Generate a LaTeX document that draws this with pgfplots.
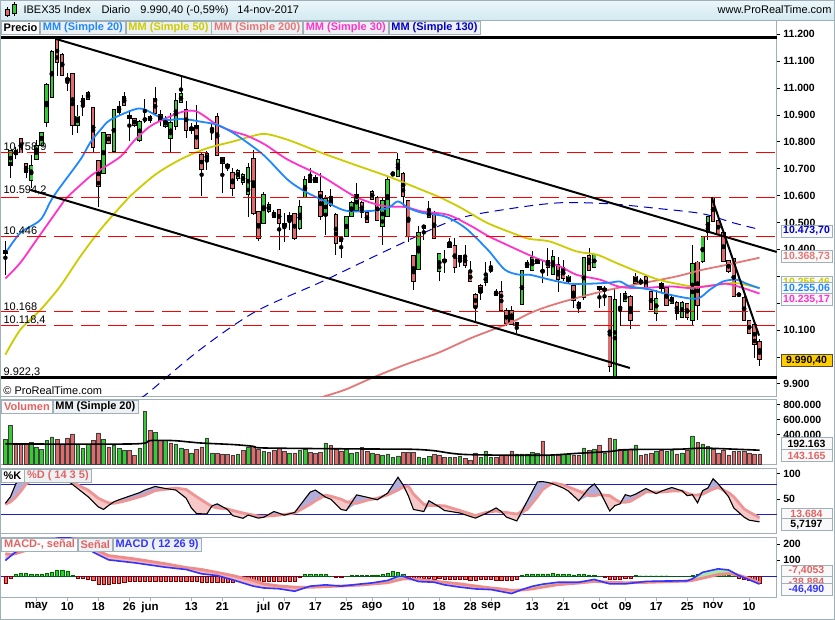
\documentclass[border=0pt]{standalone}
\usepackage{pgfplots}
\pgfplotsset{compat=1.18}
\usepackage{pgfplotstable}
\usepackage{fontspec}
\setmainfont{Liberation Sans}

\definecolor{cgreen}{RGB}{51,204,51}
\definecolor{cred}{RGB}{226,106,106}
\definecolor{ma20}{RGB}{30,136,255}
\definecolor{ma50}{RGB}{204,204,0}
\definecolor{ma200}{RGB}{228,120,120}
\definecolor{ma30}{RGB}{255,51,204}
\definecolor{ma130}{RGB}{0,0,204}
\definecolor{frm}{RGB}{160,176,184}
\definecolor{legbg}{RGB}{238,241,244}
\definecolor{salm}{RGB}{224,100,100}
\definecolor{dline}{RGB}{238,150,150}
\definecolor{kfill}{RGB}{178,174,220}
\definecolor{dfill}{RGB}{246,200,200}
\definecolor{mblue}{RGB}{51,51,255}
\definecolor{sigc}{RGB}{238,140,140}
\definecolor{mgreen}{RGB}{170,232,170}
\definecolor{mpink}{RGB}{246,180,180}
\definecolor{linblue}{RGB}{30,30,200}
\definecolor{gold}{RGB}{255,204,0}

\pgfplotstableread{
i o h l c v g
-6 10385 10432 10305 10395 333 1
-5 10714 10770 10665 10764 520 1
-4 10765 10780 10735 10755 289 0
-3 10810 10813 10758 10760 276 0
-2 10717 10720 10665 10686 276 0
-1 10658 10751 10627 10710 298 1
0 10735 10807 10733 10785 235 1
1 10789 10838 10789 10834 200 1
2 10875 11018 10854 11012 320 1
3 10968 11142 10968 11135 369 1
4 11179 11184 11043 11096 333 0
5 11123 11129 11049 11049 276 0
6 11035 11055 10990 11030 356 0
7 11051 11055 10826 10863 409 0
8 10863 10937 10832 10894 276 1
9 10941 10974 10894 10958 213 1
10 10958 10989 10956 10981 276 1
11 10925 10927 10758 10782 324 0
12 10727 10733 10559 10634 422 0
13 10683 10838 10683 10834 333 1
14 10826 10830 10790 10795 235 0
15 10767 10922 10764 10919 253 1
16 10909 10950 10900 10931 213 1
17 10968 10986 10934 10937 187 1
18 10890 10919 10801 10895 187 0
19 10884 10890 10855 10863 120 0
20 10807 10880 10800 10875 222 1
21 10882 10958 10870 10884 711 1
22 10894 10900 10870 10879 453 0
23 10958 11005 10905 10906 435 1
24 10900 10920 10860 10880 320 0
25 10857 10895 10850 10881 320 1
26 10813 10906 10758 10869 289 0
27 10857 10981 10844 10952 276 1
28 10946 11045 10943 10977 222 1
29 10919 10950 10813 10844 200 0
30 10850 10870 10830 10845 156 1
31 10857 10937 10772 10776 200 0
32 10751 10758 10597 10698 235 0
33 10733 10764 10696 10755 356 1
34 10848 10869 10807 10846 156 1
35 10891 10906 10748 10751 156 0
36 10741 10745 10609 10720 142 0
37 10712 10720 10690 10710 133 0
38 10683 10702 10597 10627 120 0
39 10665 10700 10655 10693 133 1
40 10649 10685 10640 10677 187 0
41 10605 10720 10522 10702 235 1
42 10737 10770 10528 10535 244 0
43 10537 10541 10429 10442 200 0
44 10497 10615 10497 10603 173 1
45 10541 10575 10535 10566 160 0
46 10535 10547 10516 10520 187 0
47 10547 10550 10398 10497 222 0
48 10494 10535 10429 10485 173 0
49 10525 10537 10473 10510 156 1
50 10531 10535 10435 10442 156 0
51 10479 10584 10473 10557 196 1
52 10593 10671 10590 10658 209 1
53 10665 10702 10646 10652 164 0
54 10665 10677 10646 10649 151 0
55 10615 10683 10510 10525 164 0
56 10528 10603 10454 10587 289 1
57 10594 10624 10559 10566 253 0
58 10528 10535 10380 10423 209 0
59 10432 10449 10367 10445 182 0
60 10448 10525 10448 10520 209 1
61 10525 10578 10525 10572 156 1
62 10547 10646 10545 10603 164 1
63 10572 10578 10516 10537 231 0
64 10535 10538 10497 10500 173 0
65 10615 10621 10582 10587 156 1
66 10590 10597 10504 10510 142 0
67 10485 10590 10417 10578 129 1
68 10525 10673 10522 10658 142 1
69 10680 10686 10671 10683 93 1
70 10673 10758 10671 10733 116 1
71 10681 10686 10553 10597 160 0
72 10578 10584 10429 10448 160 0
73 10376 10380 10250 10281 160 0
74 10326 10487 10324 10460 102 1
75 10487 10491 10435 10481 80 1
76 10520 10578 10515 10541 107 1
77 10535 10541 10442 10442 138 0
78 10318 10386 10281 10383 129 0
79 10357 10398 10312 10359 93 0
80 10423 10442 10404 10408 93 1
81 10413 10442 10312 10334 93 0
82 10376 10378 10336 10357 107 1
83 10374 10417 10330 10342 80 0
84 10312 10355 10281 10281 53 0
85 10231 10237 10132 10188 156 0
86 10264 10272 10212 10240 93 1
87 10277 10351 10262 10299 182 1
88 10322 10355 10312 10325 93 1
89 10231 10252 10225 10241 93 0
90 10241 10284 10169 10175 129 0
91 10169 10181 10113 10126 129 0
92 10169 10188 10119 10123 182 0
93 10117 10128 10088 10126 142 1
94 10196 10321 10194 10318 142 1
95 10351 10361 10330 10334 142 1
96 10324 10392 10321 10367 164 1
97 10349 10364 10348 10361 156 1
98 10318 10361 10274 10320 315 0
99 10355 10404 10299 10334 120 1
100 10309 10398 10305 10373 120 1
101 10342 10371 10243 10289 129 0
102 10330 10361 10281 10293 142 1
103 10281 10305 10274 10299 142 1
104 10264 10268 10181 10212 129 0
105 10200 10206 10163 10185 120 0
106 10221 10373 10212 10367 222 1
107 10376 10404 10318 10324 187 0
108 10334 10383 10330 10380 209 1
109 10259 10262 10181 10252 262 0
110 10247 10262 10188 10253 156 1
111 10222 10225 9942 9965 356 0
112 9930 10256 9925 10210 342 1
113 10183 10237 10113 10181 209 0
114 10209 10243 10205 10233 187 1
115 10222 10231 10103 10138 209 0
116 10299 10311 10268 10274 262 1
117 10281 10293 10268 10274 120 0
118 10297 10300 10256 10259 142 0
119 10240 10244 10175 10178 156 0
120 10163 10250 10132 10215 173 1
121 10256 10277 10243 10271 196 0
122 10256 10262 10188 10194 173 1
123 10202 10225 10198 10219 196 1
124 10200 10206 10138 10163 142 0
125 10148 10206 10145 10202 156 1
126 10196 10200 10138 10148 196 0
127 10138 10417 10119 10345 382 1
128 10351 10355 10136 10194 298 0
129 10355 10445 10349 10445 276 1
130 10464 10520 10435 10520 244 1
131 10590 10594 10504 10507 209 0
132 10507 10510 10454 10458 156 0
133 10460 10466 10355 10357 196 0
134 10357 10361 10312 10318 129 0
135 10364 10367 10225 10227 173 0
136 10233 10236 10227 10229 173 0
137 10219 10225 10132 10138 173 0
138 10132 10135 10086 10088 156 0
139 10119 10123 9996 10049 142 0
140 10057 10066 9965 9990.4 143.165 0
}\candles

\pgfplotstableread{
i k d
-6 42 40
-5 55 45
-4 80 54
-3 92 66
-2 97 80
0 98 92
2 97 95
4 96 94
6 87 89
8 71 78
10 55 68
12 35 52
13 30 47
14 38 43
15 45 42
16 49 44
18 56 49
20 63 55
21 68 58
23 75 67
25 71 69.5
27 68 72
29 52 69
30 33 62
31 22 55
33 21 42
34 37 36
35 41 33
37 30 31
38 18 28
40 12.7 23
41 19 21
43 13 17
44 14.7 16.5
46 26 18
48 19 20
50 24 23
53 64 40
54 68 47
56 54 58
57 50 56
59 30 50
60 28 45
62 58.5 42
64 54 48
66 49 52
68 62 58.5
70 93 68
71 78 74
72 57 76
73 30 60
75 26 40
76 47 37.6
78 35 37.6
79 28 37
82 23 28
85 13 18
87 22 24
89 33 27
90 26 25
91 15 24
93 7.6 21
95 46 30
97 84 55
98 84.5 69
99 83 76
100 80 82
102 72 78
103 66 74
105 47 66
107 72 57
108 80 57
109 67 59
110 47 58
111 27 57
112 37.6 50
113 41 44
114 59 44
115 56 46
116 60 52
118 71 64
120 61 64
121 66 64
123 73 66
125 66.5 66
126 57 62
127 59 58.5
128 43 58.5
129 67 60
130 72 65
131 90 70
132 80 73
134 55 63
135 33 55
137 15 31
138 9 25
140 5.72 13.68
}\stoch

\pgfplotstableread{
i m s
-6 98 140
-5 125 135
-4 150 140
-2 180 160
0 200 180
2 215 195
4 235 210
6 240 220
8 225 230
10 185 205
11 149 170
14 102 128
19 84 108
25 57 78
29 43 55
32 16.5 43
35 6 25
38 -20 6
42 -59 -24.5
44 -70 -45
47 -75 -58
50 -90 -65
53 -59 -66
56 -51 -62
59 -59 -58
63 -45 -52
65 -39 -46
68 -24 -38
70 0 -22
71 2 -15
72 -10 -14
74 -31 -18
77 -35 -28
79 -51 -35
82 -65 -45
85 -76 -58
88 -80 -70
90 -92 -76
92 -104 -84
94 -80 -83
96 -60 -76
98 -47 -65
101 -35 -50
105 -35 -40
108 -18 -30
111 -45 -35
114 -45 -38
118 -30 -36
121 -28 -33
126 -26 -28
127 -14 -24
129 26 -10
132 47 12
134 40 18
136 6 8
138 -20 -12
140 -46.49 -38.88
}\macd

\pgfplotstableread{
i h
-6 -39
-5 -10
-4 14
-3 18
-2 18
-1 14
0 12
1 16
2 18
3 27
4 38
5 41
6 35
7 6
8 -8
9 -10
10 -14
11 -24
12 -49
13 -49
14 -49
15 -39
16 -39
17 -35
18 -29
19 -29
20 -29
21 -29
22 -29
23 -29
24 -29
25 -29
26 -29
27 -29
28 -29
29 -29
30 -29
31 -29
32 -35
33 -35
34 -35
35 -35
36 -35
37 -35
38 -35
39 -30
40 -30
41 -30
42 -30
43 -31
44 -31
45 -31
46 -31
47 -31
48 -28
49 -28
50 -28
51 -5
52 12
53 12
54 12
55 12
56 12
57 3
58 -3
59 -3
60 2
61 6
62 8
63 8
64 6
65 8
66 10
67 14
68 20
69 31
70 25
71 12
72 -8
73 -12
74 -14
75 -12
76 -12
77 -14
78 -12
79 -14
80 -16
81 -14
82 -14
83 -18
84 -24
85 -20
86 -16
87 -14
88 -14
89 -20
90 -20
91 -20
92 -20
93 -18
94 6
95 12
96 14
97 16
98 16
99 16
100 18
101 16
102 14
103 14
104 10
105 12
106 12
107 10
108 6
109 2
110 -3
111 -18
112 -14
113 -14
114 -12
115 -10
116 6
117 5
118 5
119 5
120 5
121 5
122 5
123 3
124 3
125 3
126 2
127 8
128 14
129 24
130 30
131 30
132 24
133 20
134 10
135 3
136 -10
137 -14
138 -20
139 -30
140 -40
}\hist

\pgfplotsset{
 panel/.style={scale only axis, width=777pt, xmin=-6.963, xmax=143.33,
   axis line style={draw=frm, line width=0.8pt},
   xtick=\empty, ytick pos=right, yticklabel pos=right,
   ytick align=outside, major tick length=3pt,
   tick style={black, line width=0.6pt},
   yticklabel style={font=\bfseries\fontsize{10.5}{12}\selectfont},
   /pgf/number format/assume math mode=true,
   scaled y ticks=false, clip=true},
 cwick/.style={only marks, mark=none, forget plot,
   error bars/y dir=both, error bars/y explicit, error bars/error mark=none},
}
\tikzset{
 leg/.style={draw=frm, fill=legbg, font=\bfseries\fontsize{11}{12}\selectfont,
   inner xsep=2.5pt, inner ysep=0pt, minimum height=13.5pt, anchor=north west, line width=0.6pt},
 vbox/.style={draw=frm, fill=white!95!gray, font=\bfseries\fontsize{10.5}{12}\selectfont,
   inner xsep=2pt, inner ysep=0pt, minimum height=12pt, minimum width=51pt, anchor=west, line width=0.6pt},
 llab/.style={anchor=base west, font=\fontsize{11}{12}\selectfont, inner sep=0pt},
}

\begin{document}
\begin{tikzpicture}
\fill[white] (0pt,0pt) rectangle (835pt,-620pt);
\shade[top color={rgb,255:red,236;green,246;blue,250}, bottom color={rgb,255:red,212;green,234;blue,242}] (0pt,0pt) rectangle (835pt,-20pt);
\draw[frm, line width=0.6pt] (0pt,-20pt) -- (835pt,-20pt);
% title icon
\draw[black, line width=0.5pt] (6.5pt,-7pt) -- (6.5pt,-17pt);
\filldraw[fill=cred, draw=black, line width=0.5pt] (4.5pt,-9pt) rectangle (8.5pt,-15pt);
\draw[black, line width=0.5pt] (13.5pt,-2.5pt) -- (13.5pt,-16pt);
\filldraw[fill=cgreen, draw=black, line width=0.5pt] (11.5pt,-4pt) rectangle (15.5pt,-13.5pt);
\node[anchor=base west, font=\fontsize{11}{12}\selectfont, inner sep=0pt] at (23pt,-14pt) {IBEX35 Index};
\node[anchor=base west, font=\fontsize{11}{12}\selectfont, inner sep=0pt] at (101pt,-14pt) {Diario};
\node[anchor=base west, font=\fontsize{11}{12}\selectfont, inner sep=0pt] at (140pt,-14pt) {9.990,40 (-0,59\%)};
\node[anchor=base west, font=\fontsize{11}{12}\selectfont, inner sep=0pt] at (237pt,-14pt) {14-nov-2017};
\node[anchor=base east, font=\fontsize{11}{12}\selectfont, inner sep=0pt] at (832pt,-14pt) {www.ProRealTime.com};

% ================= PRICE =================
\begin{axis}[panel, at={(0pt,-396.5pt)}, anchor=south west, height=376pt,
  ymin=9853.7, ymax=11251, ytick={9900,10000,...,11200},
  yticklabels={9.900,,10.100,,,10.400,10.500,10.600,10.700,10.800,10.900,11.000,11.100,11.200}]
\addplot[cwick, error bars/error bar style={draw=black, line width=1pt}]
  table[x=i, y expr=(\thisrow{h}+\thisrow{l})/2, y error expr=(\thisrow{h}-\thisrow{l})/2] {\candles};
\addplot[cwick, error bars/error bar style={draw=black, line width=4.4pt}]
  table[x=i, y expr=(\thisrow{o}+\thisrow{c})/2, y error expr=abs(\thisrow{c}-\thisrow{o})/2+3.6] {\candles};
\addplot[cwick, restrict expr to domain={\thisrow{c}-\thisrow{o}}{0:100000}, error bars/error bar style={draw=cgreen, line width=2.6pt}]
  table[x=i, y expr=(\thisrow{o}+\thisrow{c})/2, y error expr=abs(\thisrow{c}-\thisrow{o})/2] {\candles};
\addplot[cwick, restrict expr to domain={\thisrow{c}-\thisrow{o}}{-100000:-0.001}, error bars/error bar style={draw=cred, line width=2.6pt}]
  table[x=i, y expr=(\thisrow{o}+\thisrow{c})/2, y error expr=abs(\thisrow{c}-\thisrow{o})/2] {\candles};
% moving averages
\addplot[ma200, line width=1.8pt, smooth, no markers] coordinates {(54.9,9848) (59.8,9878) (64.9,9921) (71.4,9971) (77.8,10015) (84.3,10071) (91.7,10126) (95.6,10163) (99.4,10190) (104.6,10219) (111,10250) (117.4,10274) (123.9,10299) (129,10324) (133.6,10342) (140,10368.73)};
\addplot[ma130, line width=1pt, dash pattern=on 9pt off 6pt, smooth, no markers] coordinates {(20.1,9848) (21.7,9867) (31.7,10027) (42.4,10168) (55.3,10280) (68.1,10398) (81,10510) (91.7,10551) (101.4,10573) (111,10569) (120.7,10551) (129,10532) (134.8,10499) (140,10473.7)};
\addplot[ma50, line width=1.8pt, smooth, no markers] coordinates {(-6,10008) (-3.1,10101) (0.8,10175) (4.6,10262) (8.5,10373) (12.4,10473) (16.3,10559) (18.8,10609) (23.4,10683) (28.4,10739) (33.1,10776) (38.1,10801) (41.4,10819) (44.3,10829) (48.7,10807) (55.3,10758) (61.7,10714) (68.1,10671) (71.4,10646) (74.6,10621) (78.5,10590) (82.3,10553) (87.4,10497) (93.6,10450) (95.6,10438) (99.4,10429) (104.6,10392) (108.5,10380) (112.3,10349) (116.2,10318) (120.1,10289) (123.9,10272) (127.8,10260) (131.7,10268) (135.5,10274) (140,10255.46)};
\addplot[ma30, line width=1.8pt, smooth, no markers] coordinates {(-6,10291) (-3.1,10350) (0,10434) (4.6,10559) (5.9,10592) (10.4,10671) (12.4,10696) (16.3,10745) (18.8,10801) (22,10857) (25.3,10889) (28.4,10912) (31.1,10912) (35,10863) (38.1,10838) (40.8,10822) (44.3,10789) (48.7,10733) (55.3,10671) (61.7,10596) (66.9,10562) (71.4,10557) (74.6,10541) (79.7,10528) (84.3,10485) (87.4,10450) (91.7,10411) (96.8,10367) (101.4,10336) (104.6,10305) (109.1,10287) (113,10260) (117.4,10256) (122.6,10262) (126.5,10256) (130.4,10264) (133.6,10272) (136.8,10256) (140,10235.17)};
\addplot[ma20, line width=1.8pt, smooth, no markers] coordinates {(-6,10385) (-3.1,10461) (0.8,10510) (3.3,10596) (8.5,10733) (10.4,10796) (12.4,10844) (14.3,10881) (18.8,10919) (20.7,10922) (23.4,10896) (25.3,10881) (28.4,10885) (31.7,10875) (35,10863) (38.1,10833) (41.4,10789) (44.3,10745) (48.7,10658) (52,10615) (55.3,10584) (59.8,10544) (64.9,10543) (68.1,10554) (70,10578) (72,10554) (74.6,10536) (79.1,10522) (83,10480) (87.4,10398) (90.7,10324) (93.6,10305) (95.6,10305) (99.4,10287) (103.3,10272) (107.2,10272) (111,10276) (113,10280) (114.9,10262) (118.8,10250) (122.6,10231) (127.8,10216) (130.4,10250) (132.9,10280) (135.5,10287) (137.5,10272) (140,10255.06)};
% horizontal levels
\addplot[red, line width=0.9pt, dash pattern=on 19pt off 8pt] coordinates {(-7,10758.9) (144,10758.9)};
\addplot[red, line width=0.9pt, dash pattern=on 19pt off 8pt] coordinates {(-7,10594.2) (144,10594.2)};
\addplot[red, line width=0.9pt, dash pattern=on 19pt off 8pt] coordinates {(-7,10446) (144,10446)};
\addplot[red, line width=0.9pt, dash pattern=on 19pt off 8pt] coordinates {(-7,10168) (144,10168)};
\addplot[red, line width=0.9pt, dash pattern=on 19pt off 8pt] coordinates {(-7,10118.4) (144,10118.4)};
\addplot[black, line width=2.5pt] coordinates {(-7,11187) (144,11187)};
\addplot[black, line width=2.5pt] coordinates {(-7,9922.3) (144,9922.3)};
% trend lines
\addplot[black, line width=2pt] coordinates {(3.67,11183) (143.33,10390)};
\addplot[black, line width=2pt] coordinates {(-1.16,10621) (114.9,9958.5)};
\addplot[black, line width=2pt] coordinates {(130.7,10594) (139.9,10079)};
\end{axis}

% ================= VOLUME =================
\begin{axis}[panel, at={(0pt,-465pt)}, anchor=south west, height=65.5pt,
  ymin=0, ymax=873, ytick={400,600,800}, yticklabels={400.000,600.000,800.000}]
\addplot[ybar, bar width=3.6pt, fill=cgreen, draw=black!75, line width=0.5pt,
  restrict expr to domain={\thisrow{g}}{0.5:1.5}] table[x=i, y=v] {\candles};
\addplot[ybar, bar width=3.6pt, fill=cred, draw=black!75, line width=0.5pt,
  restrict expr to domain={\thisrow{g}}{-0.5:0.5}] table[x=i, y=v] {\candles};
\addplot[black, line width=1.6pt, smooth, no markers] coordinates {(-6,276) (18.8,276) (22,320) (26.6,320) (31.7,289) (38.2,267) (42,244) (44,222) (62.6,209) (72.3,205) (76.8,187) (83,135) (98,125) (104.6,150) (111,175) (114.3,200) (124,205) (129,220) (134,209) (140,192.163)};
\end{axis}

% ================= STOCHASTIC =================
\begin{axis}[panel, at={(0pt,-533.7pt)}, anchor=south west, height=65pt,
  ymin=-16.6, ymax=110.6, ytick={50,100}]
\addplot[linblue, line width=0.8pt] coordinates {(-7,80) (144,80)};
\addplot[linblue, line width=0.8pt] coordinates {(-7,20) (144,20)};
% fills: base = min(K,D); lavender up to K; pink up to D
\addplot[draw=none, stack plots=y, forget plot] table[x=i, y expr={min(\thisrow{k},\thisrow{d})}]{\stoch};
\addplot[draw=none, fill=kfill, stack plots=y, forget plot] table[x=i, y expr={\thisrow{k}-min(\thisrow{k},\thisrow{d})}]{\stoch} \closedcycle;
\addplot[draw=none, fill=dfill, stack plots=y, forget plot] table[x=i, y expr={\thisrow{d}-min(\thisrow{k},\thisrow{d})}]{\stoch} \closedcycle;
\addplot[dline, line width=2.8pt, no markers, stack plots=false] table[x=i,y=d]{\stoch};
\addplot[black, line width=1.1pt, no markers, stack plots=false] table[x=i,y=k]{\stoch};
\end{axis}

% ================= MACD =================
\begin{axis}[panel, at={(0pt,-598.3pt)}, anchor=south west, height=60.6pt,
  ymin=-130.3, ymax=240.4, ytick={100,200},
  xtick={0,6,12,18,22,30,36,44,48,54,60,65,72,78,84,88,96,102,109,114,120,126,131,138},
  xticklabels={may,10,18,26,jun,13,21,jul,07,17,25,ago,10,18,28,sep,13,21,oct,09,17,25,nov,10},
  xtick pos=bottom, xtick align=outside,
  xticklabel style={font=\bfseries\fontsize{11.5}{13}\selectfont, inner sep=1.5pt},
  xtick style={frm, line width=0.6pt}]
\addplot[linblue, line width=0.8pt] coordinates {(-7,0) (144,0)};
\addplot[ybar, bar width=3.2pt, fill=cgreen, draw=green!40!black, line width=0.4pt,
  restrict expr to domain={\thisrow{h}}{0:1000}] table[x=i, y=h] {\hist};
\addplot[ybar, bar width=3.2pt, fill=cred, draw=red!50!black, line width=0.4pt,
  restrict expr to domain={\thisrow{h}}{-1000:-0.001}] table[x=i, y=h] {\hist};
\addplot[draw=none, stack plots=y, forget plot] table[x=i, y expr={min(\thisrow{m},\thisrow{s})}]{\macd};
\addplot[draw=none, fill=mgreen, stack plots=y, forget plot] table[x=i, y expr={\thisrow{m}-min(\thisrow{m},\thisrow{s})}]{\macd} \closedcycle;
\addplot[draw=none, fill=mpink, stack plots=y, forget plot] table[x=i, y expr={\thisrow{s}-min(\thisrow{m},\thisrow{s})}]{\macd} \closedcycle;
\addplot[sigc, line width=2.8pt, no markers, stack plots=false] table[x=i,y=s]{\macd};
\addplot[mblue, line width=1.6pt, no markers, stack plots=false] table[x=i,y=m]{\macd};
\end{axis}

% outer frame
\draw[frm, line width=0.8pt] (0.4pt,-0.4pt) rectangle (834.6pt,-619.6pt);

% ====== price overlays ======
\node[llab] at (3pt,-150.8pt) {10.758,9};
\node[llab] at (3pt,-194pt) {10.594,2};
\node[llab] at (3pt,-235pt) {10.446};
\node[llab] at (3pt,-310.5pt) {10.168};
\node[llab] at (3pt,-323.5pt) {10.118,4};
\node[llab] at (3pt,-376pt) {9.922,3};
\node[anchor=south west, fill=white, inner xsep=2pt, inner ysep=1pt, font=\fontsize{11}{12}\selectfont] at (0.8pt,-396pt) {\textcopyright\ ProRealTime.com};

\node[leg, fill=white!97!gray] (p0) at (0.5pt,-21pt) {Precio};
\node[leg, text=ma20] (p1) at (p0.north east) {MM (Simple 20)};
\node[leg, text=ma50] (p2) at (p1.north east) {MM (Simple 50)};
\node[leg, text=ma200] (p3) at (p2.north east) {MM (Simple 200)};
\node[leg, text=ma30] (p4) at (p3.north east) {MM (Simple 30)};
\node[leg, text=ma130] (p5) at (p4.north east) {MM (Simple 130)};

\node[vbox, text=ma130] at (781pt,-231pt) {10.473,70};
\node[vbox, text=ma200] at (781pt,-257pt) {10.368,73};
\node[vbox, text=ma50] at (781pt,-282.5pt) {10.255,46};
\node[vbox, text=ma20] at (781pt,-288.5pt) {10.255,06};
\node[vbox, text=ma30] at (781pt,-300pt) {10.235,17};
\node[vbox, fill=gold, draw=black!70, text=black] at (781pt,-360.8pt) {9.990,40};

% ====== volume overlays ======
\node[leg, text=salm, fill=white!97!gray] (v0) at (1pt,-400pt) {Volumen};
\node[leg, text=black] (v1) at (v0.north east) {MM (Simple 20)};
\node[vbox, text=black] at (781pt,-444pt) {192.163};
\node[vbox, text=salm] at (781pt,-456pt) {143.165};

% ====== stochastic overlays ======
\node[leg, text=black, fill=white!97!gray] (s0) at (0.5pt,-469pt) {\%K};
\node[leg, text=salm] (s1) at (s0.north east) {\%D ( 14 3 5)};
\node[vbox, text=salm] at (781pt,-514.5pt) {13.684};
\node[vbox, text=black] at (781pt,-525pt) {5,7197};

% ====== MACD overlays ======
\node[leg, text=salm, fill=white!97!gray] (m0) at (1pt,-538.2pt) {MACD-, señal};
\node[leg, text=salm] (m1) at (m0.north east) {Señal};
\node[leg, text=mblue] (m2) at (m1.north east) {MACD ( 12 26 9)};
\node[vbox, text=salm] at (781pt,-571.5pt) {-7,4053};
\node[vbox, text=salm] at (781pt,-583pt) {-38,884};
\node[vbox, text=mblue] at (781pt,-590pt) {-46,490};
\end{tikzpicture}
\end{document}
